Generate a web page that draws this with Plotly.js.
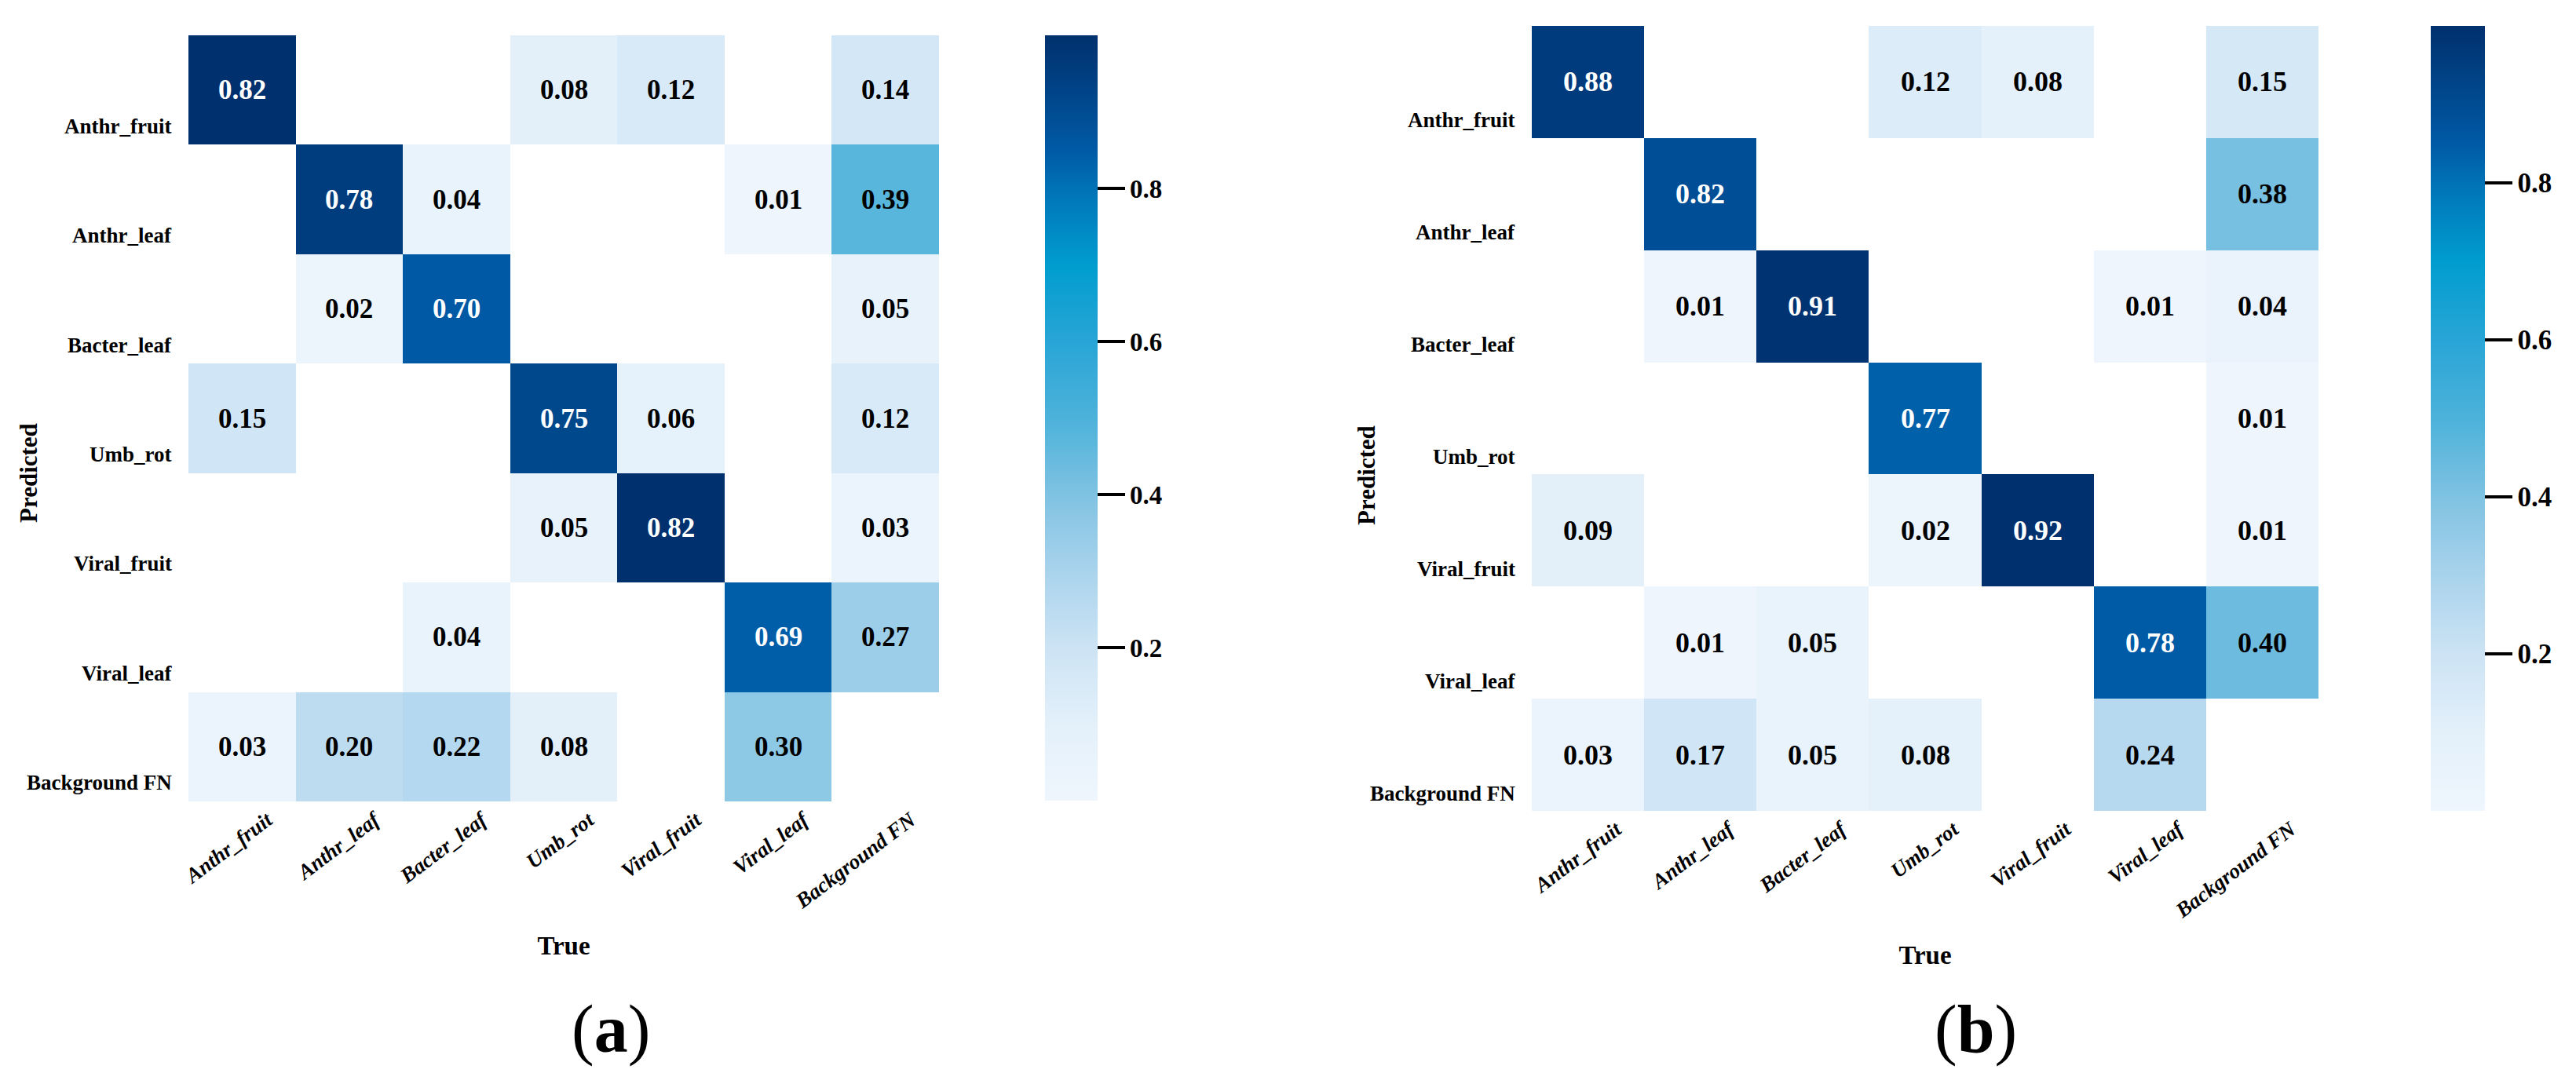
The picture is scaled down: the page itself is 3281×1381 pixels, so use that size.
<!DOCTYPE html>
<html><head><meta charset="utf-8">
<script src="https://cdn.plot.ly/plotly-3.0.1.min.js"></script>
<style>html,body{margin:0;padding:0;background:#fff;} #chart{width:3281px;height:1381px;}</style>
</head><body><div id="chart"></div>
<script>
// ---- data ----
const classes = ['Anthr_fruit','Anthr_leaf','Bacter_leaf','Umb_rot','Viral_fruit','Viral_leaf','Background FN'];
// rows = Predicted, columns = True
const matrixA = [
  [0.82, null, null, 0.08, 0.12, null, 0.14],
  [null, 0.78, 0.04, null, null, 0.01, 0.39],
  [null, 0.02, 0.70, null, null, null, 0.05],
  [0.15, null, null, 0.75, 0.06, null, 0.12],
  [null, null, null, 0.05, 0.82, null, 0.03],
  [null, null, 0.04, null, null, 0.69, 0.27],
  [0.03, 0.20, 0.22, 0.08, null, 0.30, null]
];
const matrixB = [
  [0.88, null, null, 0.12, 0.08, null, 0.15],
  [null, 0.82, null, null, null, null, 0.38],
  [null, 0.01, 0.91, null, null, 0.01, 0.04],
  [null, null, null, 0.77, null, null, 0.01],
  [0.09, null, null, 0.02, 0.92, null, 0.01],
  [null, 0.01, 0.05, null, null, 0.78, 0.40],
  [0.03, 0.17, 0.05, 0.08, null, 0.24, null]
];
const panelLabels = ['a', 'b'];
const xTitle = 'True';
const yTitle = 'Predicted';
const colorbarTicks = [0.2, 0.4, 0.6, 0.8];

// ---- style ----
const FONT = 'Liberation Serif, Times New Roman, serif';
const blues = [
  [0.0, '#eff6fd'], [0.1, '#e3f0fa'], [0.2, '#cce3f4'], [0.3, '#a9d3ec'],
  [0.4, '#7fc2e2'], [0.5, '#4cb2da'], [0.6, '#28a5d6'], [0.7, '#009dcf'],
  [0.8, '#0072b6'], [0.85, '#005aa6'], [0.92, '#00468a'], [1.0, '#00306e']
];
const idx = classes.map((_, i) => i);

const W = 3281, H = 1381;
const panels = [
  {m: matrixA, x0: 240, x1: 1196, y0: 45, y1: 1021, cbx: 1331, cbw: 67, cby0: 45, cby1: 1020,
   ylabShift: -46, predX: 36, predY: 603, labX: 778, labY: 1311, cellFont: 35, cbFont: 33, xshift: 32},
  {m: matrixB, x0: 1951, x1: 2953, y0: 33, y1: 1033, cbx: 3096, cbw: 69, cby0: 33, cby1: 1033,
   ylabShift: -49, predX: 1740, predY: 606, labX: 2516, labY: 1311, cellFont: 36, cbFont: 35, xshift: 36}
];

const data = [];
const annotations = [];
const layout = {
  width: W, height: H,
  margin: {l: 0, r: 0, t: 0, b: 0},
  paper_bgcolor: '#ffffff', plot_bgcolor: '#ffffff',
  font: {family: FONT, color: '#000000'},
  showlegend: false,
  annotations: annotations
};

panels.forEach((p, k) => {
  const xa = k === 0 ? 'x' : 'x2';
  const ya = k === 0 ? 'y' : 'y2';
  const xKey = k === 0 ? 'xaxis' : 'xaxis2';
  const yKey = k === 0 ? 'yaxis' : 'yaxis2';
  const zmax = Math.max(...p.m.flat().filter(v => v !== null));

  data.push({
    type: 'heatmap', xaxis: xa, yaxis: ya,
    x: idx, y: idx, z: p.m,
    zmin: 0, zmax: zmax, colorscale: blues, showscale: false,
    hoverongaps: false, xgap: 0, ygap: 0
  });
  // colorbar (0..1) carried by an invisible marker trace
  data.push({
    type: 'scatter', mode: 'markers', xaxis: xa, yaxis: ya,
    x: [-5], y: [-5], hoverinfo: 'skip', cliponaxis: true,
    marker: {
      size: 1, opacity: 0, color: [0], cmin: 0, cmax: 1, colorscale: blues, showscale: true,
      colorbar: {
        x: p.cbx / W, xanchor: 'left', xref: 'paper',
        y: 1 - p.cby1 / H, yanchor: 'bottom', yref: 'paper',
        len: (p.cby1 - p.cby0) / H, lenmode: 'fraction',
        thickness: p.cbw, thicknessmode: 'pixels',
        xpad: 0, ypad: 0, outlinewidth: 0, borderwidth: 0,
        tickmode: 'array', tickvals: colorbarTicks, ticktext: colorbarTicks.map(v => v.toFixed(1)),
        ticks: 'outside', ticklen: 35, tickwidth: 4, tickcolor: '#000000',
        tickfont: {family: FONT, size: p.cbFont, weight: 'bold', color: '#000000'}
      }
    }
  });

  layout[xKey] = {
    domain: [p.x0 / W, p.x1 / W], anchor: ya,
    range: [-0.5, 6.5], showgrid: false, zeroline: false, showline: false,
    tickmode: 'array', tickvals: idx, ticktext: classes, ticks: '',
    tickangle: -37, ticklabelshift: p.xshift, ticklabelstandoff: 2,
    tickfont: {family: FONT, size: 27, weight: 'bold', style: 'italic', color: '#000000'},
    title: {text: xTitle, font: {family: FONT, size: 33, weight: 'bold', color: '#000000'}, standoff: 30},
    fixedrange: true
  };
  layout[yKey] = {
    domain: [1 - p.y1 / H, 1 - p.y0 / H], anchor: xa,
    range: [6.5, -0.5], showgrid: false, zeroline: false, showline: false,
    showticklabels: false, ticks: '', fixedrange: true
  };

  // y tick labels (sit low in each row, as in the original)
  classes.forEach((c, i) => {
    annotations.push({
      xref: xa, yref: ya, x: -0.5, y: i, xanchor: 'right', yanchor: 'middle',
      xshift: -19, yshift: p.ylabShift, showarrow: false, text: c,
      font: {family: FONT, size: 27, weight: 'bold', color: '#000000'}
    });
  });

  // cell values
  p.m.forEach((row, r) => {
    row.forEach((v, c) => {
      if (v === null) return;
      annotations.push({
        xref: xa, yref: ya, x: c, y: r, showarrow: false,
        text: v.toFixed(2), xanchor: 'center', yanchor: 'middle',
        font: {family: FONT, size: p.cellFont, weight: 'bold',
               color: (v / zmax) > 0.6 ? '#ffffff' : '#000000'}
      });
    });
  });

  // y title
  annotations.push({
    xref: 'paper', yref: 'paper', x: p.predX / W, y: 1 - p.predY / H,
    xanchor: 'center', yanchor: 'middle', textangle: -90, showarrow: false,
    text: yTitle, font: {family: FONT, size: 31, weight: 'bold', color: '#000000'}
  });

  // panel label
  annotations.push({
    xref: 'paper', yref: 'paper', x: p.labX / W, y: 1 - p.labY / H,
    xanchor: 'center', yanchor: 'middle', showarrow: false,
    text: '(<b>' + panelLabels[k] + '</b>)',
    font: {family: FONT, size: 86, color: '#000000'}
  });
});

Plotly.newPlot('chart', data, layout, {displayModeBar: false, staticPlot: true});
</script>
</body></html>
